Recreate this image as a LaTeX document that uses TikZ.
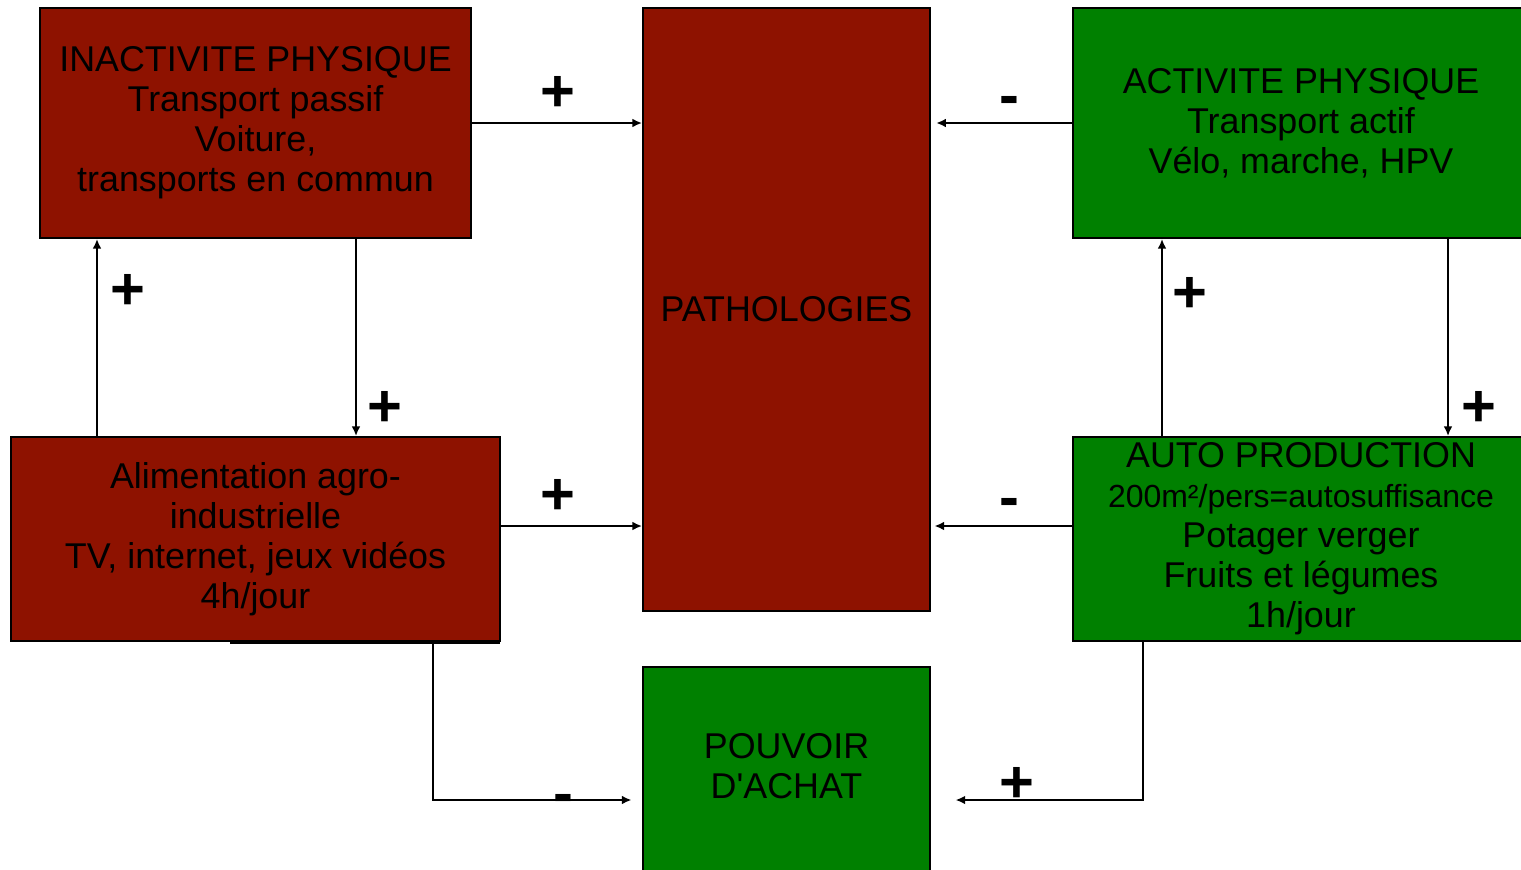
\documentclass[tikz,border=0pt]{standalone}
\usepackage{fontspec}
\setmainfont{Liberation Sans}
\usetikzlibrary{arrows.meta,calc}
\definecolor{boxred}{RGB}{142,18,0}
\definecolor{boxgreen}{RGB}{0,128,0}
\newcommand{\straightquote}{\XeTeXglyph\XeTeXglyphindex "quotesingle"\relax}
\begin{document}
\begin{tikzpicture}[x=0.02cm,y=-0.02cm,
  box/.style={draw=black,line width=1.1pt,inner sep=0pt,align=center,
    font=\fontsize{20.4}{22.8}\selectfont},
  redbox/.style={box,fill=boxred},
  greenbox/.style={box,fill=boxgreen},
  arr/.style={line width=1.1pt,-{Latex[length=5.5pt,width=5pt]}},
  sign/.style={inner sep=0pt,font=\fontsize{34}{34}\selectfont\bfseries}]
\useasboundingbox (0,0) rectangle (1521,869);
\clip (0,0) rectangle (1521,869);
\fill[white] (0,0) rectangle (1521,869);

\node[redbox,minimum width=8.62cm,minimum height=4.6cm] (inact) at (255.5,123)
  {INACTIVITE PHYSIQUE\\Transport passif\\Voiture,\\transports en commun};
\node[redbox,minimum width=5.74cm,minimum height=12.06cm] (patho) at (786.5,309.5)
  {PATHOLOGIES};
\node[greenbox,minimum width=9.12cm,minimum height=4.6cm] (act) at (1301,123)
  {ACTIVITE PHYSIQUE\\Transport actif\\Vélo, marche, HPV};
\node[redbox,minimum width=9.78cm,minimum height=4.08cm] (alim) at (255.5,539)
  {Alimentation agro-\\industrielle\\TV, internet, jeux vidéos\\4h/jour};
\node[greenbox,minimum width=9.12cm,minimum height=4.08cm] (auto) at (1301,539)
  {AUTO PRODUCTION\\{\fontsize{18.2}{22.8}\selectfont 200m²/pers=autosuffisance}\\Potager verger\\Fruits et légumes\\1h/jour};
\node[greenbox,minimum width=5.74cm,minimum height=4.12cm] (pouv) at (786.5,770)
  {POUVOIR\\D\straightquote ACHAT\\[-18.3pt]};

\draw[line width=1.6pt] (230,642.5) -- (500,642.5);

\coordinate (c97) at (97,0);
\coordinate (c356) at (356,0);
\coordinate (c1162) at (1162,0);
\coordinate (c1448) at (1448,0);
\coordinate (c433) at (433,0);
\coordinate (c1143) at (1143,0);
\coordinate (r526) at (0,526);
\coordinate (r800) at (0,800);

\draw[arr] (inact.east) -- (inact.east -| patho.west);
\draw[arr,shorten >=3pt] (act.west) -- (act.west -| patho.east);
\draw[arr] (alim.east |- r526) -- (patho.west |- r526);
\draw[arr,shorten >=2pt] (auto.west |- r526) -- (patho.east |- r526);
\draw[arr] (alim.north -| c97) -- (inact.south -| c97);
\draw[arr] (inact.south -| c356) -- (alim.north -| c356);
\draw[arr] (auto.north -| c1162) -- (act.south -| c1162);
\draw[arr] (act.south -| c1448) -- (auto.north -| c1448);
\draw[arr,shorten >=6pt] (alim.south -| c433) -- (c433 |- r800) -- (pouv.west |- r800);
\draw[arr,shorten >=14pt] (auto.south -| c1143) -- (c1143 |- r800) -- (pouv.east |- r800);

\node[sign] (s1) at (558,94) {+};
\node[sign] (s2) at (1009,106) {-};
\node[sign] (s3) at (128,292) {+};
\node[sign] (s4) at (385,409) {+};
\node[sign] (s5) at (1190,295) {+};
\node[sign] (s6) at (1479,409) {+};
\node[sign] (s7) at (558,497) {+};
\node[sign] (s8) at (1009,508) {-};
\node[sign] (s9) at (563,804) {-};
\node[sign] (s10) at (1017,785) {+};
\end{tikzpicture}
\end{document}
